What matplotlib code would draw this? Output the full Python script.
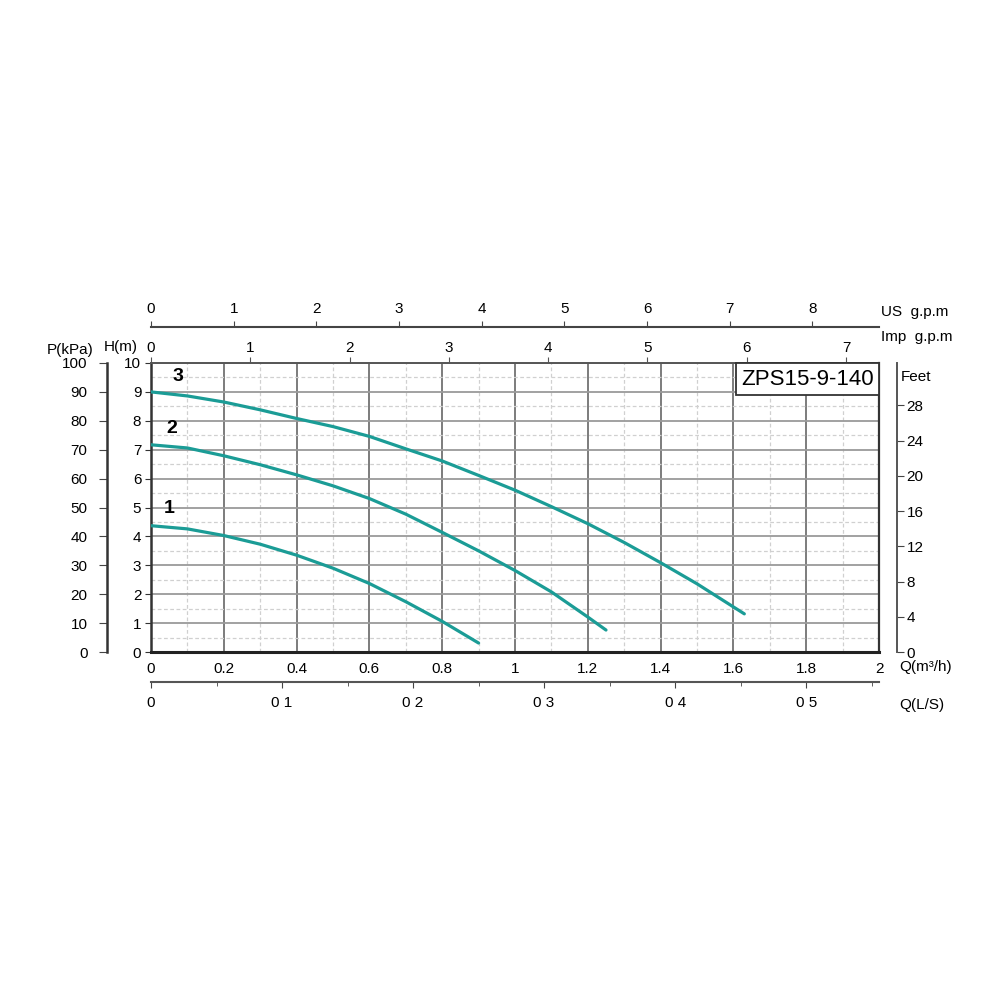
import matplotlib
matplotlib.use("Agg")
import matplotlib.pyplot as plt
from matplotlib.patches import Rectangle
from matplotlib.ticker import MultipleLocator, FixedLocator

plt.rcParams['font.family'] = ['Liberation Sans', 'DejaVu Sans']

# ---- data (Q in m3/h, H in m) ----
q1 = [0, 0.1, 0.2, 0.3, 0.4, 0.5, 0.6, 0.7, 0.8, 0.9]
h1 = [4.37, 4.26, 4.03, 3.73, 3.35, 2.90, 2.37, 1.74, 1.06, 0.31]
q2 = [0, 0.1, 0.2, 0.3, 0.4, 0.5, 0.6, 0.7, 0.8, 0.9, 1.0, 1.1, 1.2, 1.25]
h2 = [7.17, 7.06, 6.79, 6.48, 6.13, 5.75, 5.31, 4.77, 4.14, 3.50, 2.82, 2.08, 1.21, 0.76]
q3 = [0, 0.1, 0.2, 0.3, 0.4, 0.5, 0.6, 0.7, 0.8, 0.9, 1.0, 1.1, 1.2, 1.3, 1.4, 1.5, 1.6, 1.63]
h3 = [9.0, 8.86, 8.65, 8.38, 8.08, 7.80, 7.46, 7.03, 6.61, 6.11, 5.60, 5.03, 4.44, 3.79, 3.09, 2.36, 1.56, 1.32]
curve_names = ['1', '2', '3']

q_ticks = [0, 0.2, 0.4, 0.6, 0.8, 1.0, 1.2, 1.4, 1.6, 1.8, 2.0]
q_labels = ['0', '0.2', '0.4', '0.6', '0.8', '1', '1.2', '1.4', '1.6', '1.8', '2']
h_ticks = list(range(0, 11))
p_ticks = list(range(0, 101, 10))
ft_ticks = list(range(0, 29, 4))
us_ticks = list(range(0, 9))
imp_ticks = list(range(0, 8))
ls_ticks = [0, 0.1, 0.2, 0.3, 0.4, 0.5]
ls_labels = ['0', '0 1', '0 2', '0 3', '0 4', '0 5']
title = 'ZPS15-9-140'

teal = '#1b9c96'
dark = '#333333'
fs = 11

fig = plt.figure(figsize=(10, 10), dpi=100)
ax = fig.add_axes([0.151, 0.348, 0.728, 0.289])
ax.set_xlim(0, 2)
ax.set_ylim(0, 10)

# grid
ax.xaxis.set_major_locator(FixedLocator(q_ticks))
ax.xaxis.set_minor_locator(MultipleLocator(0.1))
ax.yaxis.set_major_locator(FixedLocator(h_ticks))
ax.yaxis.set_minor_locator(MultipleLocator(0.5))
ax.grid(which='major', axis='x', color='#666666', lw=1.2, ls='-')
ax.grid(which='major', axis='y', color='#9a9a9a', lw=1.3, ls='-')
ax.grid(which='minor', color='#d0d0d0', lw=0.9, ls=(0, (3, 2)))
ax.set_xticklabels(q_labels)
ax.tick_params(axis='x', which='both', length=0, pad=7, labelsize=fs)
ax.tick_params(axis='y', which='major', direction='out', length=4, pad=3, labelsize=fs, color=dark)
ax.tick_params(axis='y', which='minor', length=0)

ax.spines['bottom'].set_linewidth(2.2)
ax.spines['bottom'].set_color('#222222')
ax.spines['left'].set_linewidth(1.8)
ax.spines['left'].set_color('#333333')
ax.spines['top'].set_linewidth(1.4)
ax.spines['top'].set_color('#555555')
ax.spines['right'].set_linewidth(1.6)
ax.spines['right'].set_color('#333333')

# curves
for q, h in [(q1, h1), (q2, h2), (q3, h3)]:
    ax.plot(q, h, color=teal, lw=2.3, solid_capstyle='round', solid_joinstyle='round', zorder=4)

label_pos = [(0.049, 4.95), (0.058, 7.72), (0.074, 9.52)]
for name, (x, y) in zip(curve_names, label_pos):
    ax.text(x, y, name, fontsize=14, fontweight='bold', ha='center', va='center', zorder=5)

# title box
ax.add_patch(Rectangle((1.607, 8.9), 0.393, 1.1, facecolor='white', edgecolor='#333333',
                       lw=1.3, zorder=3, clip_on=False))
ax.text(1.805, 9.42, title, fontsize=16, ha='center', va='center', zorder=5)

# top: Imp g.p.m on main top spine
imp = ax.secondary_xaxis('top', functions=(lambda x: x / 0.272765, lambda x: x * 0.272765))
imp.set_xticks(imp_ticks)
imp.tick_params(direction='out', length=4, pad=2, labelsize=fs, color='#555555')
imp.spines['top'].set_visible(False)

# top: US g.p.m separate line
us = ax.secondary_xaxis(1.1246, functions=(lambda x: x / 0.227125, lambda x: x * 0.227125))
us.set_xticks(us_ticks)
us.tick_params(direction='out', length=4, pad=4, labelsize=fs, color='#444444')
us.spines['top'].set_color('#444444')
us.spines['top'].set_linewidth(1.5)

# bottom: Q(L/S)
ls = ax.secondary_xaxis(-0.1038, functions=(lambda x: x / 3.6, lambda x: x * 3.6))
ls.set_xticks(ls_ticks)
ls.set_xticklabels(ls_labels)
ls.xaxis.set_minor_locator(MultipleLocator(0.05))
ls.tick_params(which='major', direction='out', length=4, pad=6, labelsize=fs, color='#444444')
ls.tick_params(which='minor', direction='out', length=3, color='#444444')
ls.spines['bottom'].set_color('#555555')
ls.spines['bottom'].set_linewidth(1.5)

# left: P(kPa)
pk = ax.secondary_yaxis(-0.0604, functions=(lambda h: h * 10, lambda p: p / 10))
pk.set_yticks(p_ticks)
pk.tick_params(direction='out', length=6, pad=8, labelsize=fs, color='#444444')
pk.spines['left'].set_color('#333333')
pk.spines['left'].set_linewidth(1.8)

# right: Feet
ft = ax.secondary_yaxis(1.0247, functions=(lambda h: h * 3.28084, lambda f: f / 3.28084))
ft.set_yticks(ft_ticks)
ft.tick_params(direction='out', length=5, pad=2, labelsize=fs, color='#444444')
ft.spines['right'].set_color('#555555')
ft.spines['right'].set_linewidth(1.4)

# axis titles
fig.text(0.070, 1 - 0.350, 'P(kPa)', fontsize=fs, ha='center', va='center')
fig.text(0.121, 1 - 0.347, 'H(m)', fontsize=fs, ha='center', va='center')
fig.text(0.881, 1 - 0.312, 'US  g.p.m', fontsize=fs, ha='left', va='center')
fig.text(0.881, 1 - 0.337, 'Imp  g.p.m', fontsize=fs, ha='left', va='center')
fig.text(0.901, 1 - 0.377, 'Feet', fontsize=fs, ha='left', va='center')
fig.text(0.899, 1 - 0.667, 'Q(m\u00b3/h)', fontsize=fs, ha='left', va='center')
fig.text(0.899, 1 - 0.705, 'Q(L/S)', fontsize=fs, ha='left', va='center')

fig.savefig('out.png', dpi=100, facecolor='white')
